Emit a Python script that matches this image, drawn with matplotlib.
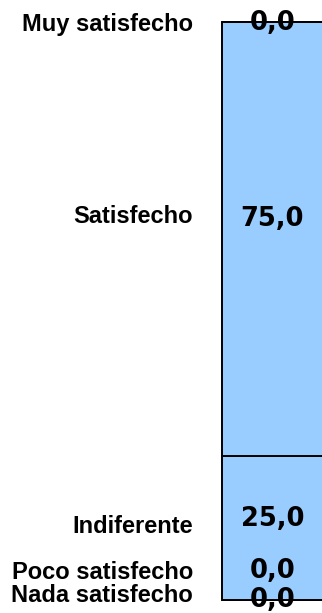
import numpy as np
import matplotlib
matplotlib.use('Agg')
import matplotlib.pyplot as plt

# Datos (de abajo hacia arriba)
categorias = ['Nada satisfecho', 'Poco satisfecho', 'Indiferente', 'Satisfecho', 'Muy satisfecho']
valores = [0.0, 0.0, 25.0, 75.0, 0.0]

# Posiciones de las etiquetas (en unidades del eje y, 0-100)
pos_categorias = [0.7, 4.8, 12.7, 66.3, 99.5]
pos_valores = [0.0, 5.0, 14.1, 65.9, 99.8]

fig = plt.figure(figsize=(3.22, 6.13), dpi=100)
ax = fig.add_axes([222 / 322, 13 / 613, 100 / 322, 578 / 613])

bases = np.concatenate([[0], np.cumsum(valores)[:-1]])
for v, b in zip(valores, bases):
    ax.bar(0, v, bottom=b, width=1.02, align='edge', color='#99CCFF',
           edgecolor='black', linewidth=1.4, clip_on=False)

for cat, y in zip(categorias, pos_categorias):
    ax.text(-0.29, y, cat, ha='right', va='center', fontsize=17,
            fontweight='bold', family='Liberation Sans')

for v, y in zip(valores, pos_valores):
    ax.text(0.505, y, f'{v:.1f}'.replace('.', ','), ha='center', va='center',
            fontsize=18.5, fontweight='bold', family='DejaVu Sans')

ax.set_xlim(0, 1)
ax.set_ylim(0, 100)
ax.axis('off')

fig.savefig('out.png', dpi=100)
